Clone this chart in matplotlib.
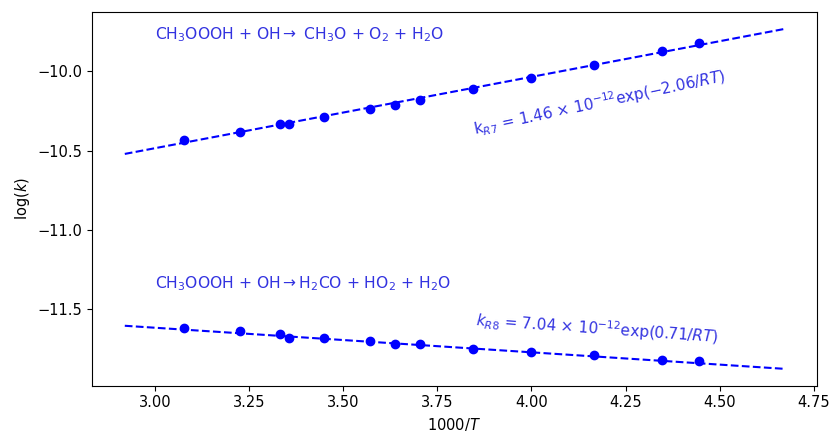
import numpy as np
import matplotlib
matplotlib.use("Agg")
import matplotlib.pyplot as plt

# temperatures (K) -> 1000/T
temps = [325, 310, 300, 298, 290, 280, 275, 270, 260, 250, 240, 230, 225]
logk_r7 = [-10.43, -10.38, -10.33, -10.33, -10.29, -10.24, -10.21, -10.18,
           -10.11, -10.04, -9.96, -9.87, -9.82]
logk_r8 = [-11.62, -11.64, -11.66, -11.68, -11.68, -11.70, -11.72, -11.72,
           -11.75, -11.77, -11.79, -11.82, -11.83]

# Arrhenius fits: A, Ea (kcal/mol)
A_r7, Ea_r7 = 1.46e-12, -2.06
A_r8, Ea_r8 = 7.04e-12, 0.71
fit_range = [2.92, 4.67]

R = 1.987e-3
invT = 1000.0 / np.array(temps)
xf = np.linspace(fit_range[0], fit_range[1], 100)

def fit(A, Ea):
	return np.log10(A) - Ea / (R * np.log(10)) * xf / 1000.0

txtcol = '#3232e0'

fig = plt.figure(figsize=(8.35, 4.32), dpi=100)
ax = fig.add_axes([0.110, 0.107, 0.868, 0.865])

ax.plot(invT, logk_r7, 'o', color='blue', ms=6)
ax.plot(xf, fit(A_r7, Ea_r7), '--', color='blue', lw=1.5)
ax.plot(invT, logk_r8, 'o', color='blue', ms=6)
ax.plot(xf, fit(A_r8, Ea_r8), '--', color='blue', lw=1.5)

ax.text(3.0, -9.77, r'CH$_3$OOOH + OH$\rightarrow$ CH$_3$O + O$_2$ + H$_2$O',
        color=txtcol, fontsize=11.2, va='center', ha='left')
ax.text(3.0, -11.34, r'CH$_3$OOOH + OH$\rightarrow$H$_2$CO + HO$_2$ + H$_2$O',
        color=txtcol, fontsize=11.2, va='center', ha='left')
ax.text(3.85, -10.40, r'k$_{R7}$ = 1.46 $\times$ 10$^{-12}$exp($-$2.06/$RT$)',
        color=txtcol, fontsize=11, rotation=12, rotation_mode='anchor',
        ha='left', va='baseline')
ax.text(3.85, -11.61, r'$k_{R8}$ = 7.04 $\times$ 10$^{-12}$exp(0.71/$RT$)',
        color=txtcol, fontsize=11, rotation=-4, rotation_mode='anchor',
        ha='left', va='baseline')

ax.set_xlabel(r'1000/$T$', fontsize=10.5)
ax.set_ylabel(r'log($k$)', fontsize=10.5)
ax.set_xticks(np.arange(3.0, 4.76, 0.25))
ax.set_yticks([-10.0, -10.5, -11.0, -11.5])
ax.tick_params(labelsize=10.5)

fig.savefig('out.png', dpi=100)
